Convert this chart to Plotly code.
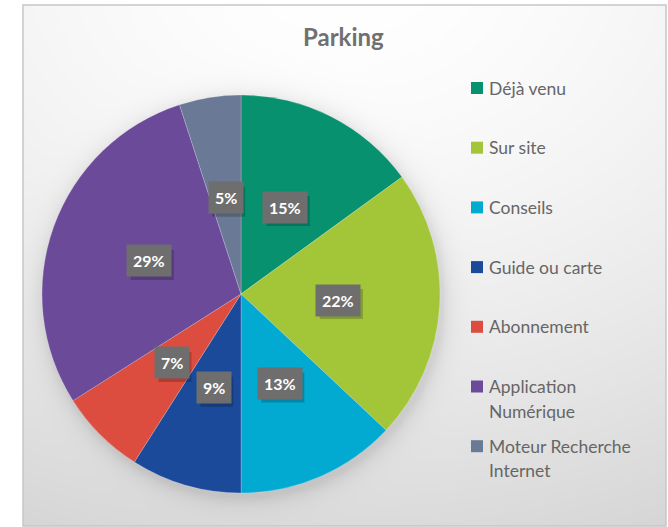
import numpy as np
import plotly.graph_objects as go

# --- data -------------------------------------------------------------
labels = ["Déjà venu", "Sur site", "Conseils", "Guide ou carte",
          "Abonnement", "Application Numérique", "Moteur Recherche Internet"]
values = [15, 22, 13, 9, 7, 29, 5]
colors = ["#08916f", "#a3c639", "#02a9d1", "#1b4a9b",
          "#dc4c3f", "#6b4a9a", "#6a7995"]
legend_lines = [["Déjà venu"], ["Sur site"], ["Conseils"], ["Guide ou carte"],
                ["Abonnement"], ["Application", "Numérique"],
                ["Moteur Recherche", "Internet"]]
title = "Parking"

# --- canvas geometry (pixels) -----------------------------------------
W, H = 668, 527
frame = (23, 5, 666, 526)          # left, top, right, bottom
cx, cy, R = 241, 294, 199          # pie centre and radius


def px(x):
    return x / W


def py(y):
    return 1 - y / H


# --- soft background: radial gradient with a shadow around the pie ----
gx = np.linspace(frame[0], frame[2], 170)
gy = np.linspace(frame[1], frame[3], 140)
X, Y = np.meshgrid(gx, gy)
t = np.sqrt(((X - 345) / 1.3) ** 2 + (Y + 40) ** 2) / 600
grey = 255 - 40 * np.clip(t, 0, 1.3) ** 1.6
d = np.sqrt((X - (cx + 2)) ** 2 + (Y - (cy + 4)) ** 2)
grey -= 26 * np.exp(-np.clip(d - R, 0, None) / 9)
grey = np.clip(grey, 0, 255)

fig = go.Figure()
fig.add_trace(go.Heatmap(
    x=gx, y=gy, z=grey, zmin=0, zmax=255, zsmooth="best",
    colorscale=[[0, "rgb(0,0,0)"], [1, "rgb(255,255,255)"]],
    showscale=False, hoverinfo="skip",
))

# --- the pie ----------------------------------------------------------
fig.add_trace(go.Pie(
    labels=labels, values=values, sort=False, direction="clockwise",
    rotation=0, marker=dict(colors=colors, line=dict(color="rgba(255,255,255,0.35)", width=0.6)),
    textinfo="none", showlegend=False,
    domain=dict(x=[px(cx - R), px(cx + R)], y=[py(cy + R), py(cy - R)]),
))

annotations = []
shapes = []

# percentage labels in grey boxes, placed half way along each slice
total = sum(values)
cum = 0
for v in values:
    mid = (cum + v / 2) / total * 2 * np.pi
    cum += v
    lx = cx + 0.49 * R * np.sin(mid)
    ly = cy - 0.49 * R * np.cos(mid)
    txt = f"{round(100 * v / total)}%"
    # soft drop shadow behind the label box
    half_w = 6 + 5.2 * len(txt)
    shapes.append(dict(
        type="rect", xref="paper", yref="paper", layer="above",
        x0=px(lx - half_w + 3), x1=px(lx + half_w + 3),
        y0=py(ly + 15 + 4), y1=py(ly - 15 + 4),
        fillcolor="rgba(0,0,0,0.20)", line=dict(width=0),
    ))
    annotations.append(dict(
        x=px(lx), y=py(ly), xref="paper", yref="paper",
        xanchor="center", yanchor="middle", text=f"<b>{txt}</b>",
        showarrow=False, bgcolor="#6e6e6e", borderpad=6,
        font=dict(family="Lato", size=16, color="#ffffff"),
    ))

# title
annotations.append(dict(
    x=px(344), y=py(36), xref="paper", yref="paper",
    xanchor="center", yanchor="middle", text=f"<b>{title}</b>",
    showarrow=False, font=dict(family="Lato", size=24, color="#707070"),
))

# legend: coloured squares and labels, one slot per category
for i, (lines, col) in enumerate(zip(legend_lines, colors)):
    yc = 88 + 59.7 * i
    shapes.append(dict(
        type="rect", xref="paper", yref="paper",
        x0=px(471), x1=px(483), y0=py(yc + 6), y1=py(yc - 6),
        fillcolor=col, line=dict(width=0),
    ))
    for j, line in enumerate(lines):
        annotations.append(dict(
            x=px(487), y=py(yc + 24.5 * j), xref="paper", yref="paper",
            xanchor="left", yanchor="middle", text=line, showarrow=False,
            font=dict(family="Lato", size=17.5, color="#666666"),
        ))

# chart frame
shapes.append(dict(
    type="rect", xref="paper", yref="paper",
    x0=px(frame[0]), x1=px(frame[2]), y0=py(frame[3]), y1=py(frame[1]),
    line=dict(color="#c6c6c6", width=1.5), fillcolor="rgba(0,0,0,0)",
    layer="above",
))

fig.update_layout(
    width=W, height=H, margin=dict(l=0, r=0, t=0, b=0),
    paper_bgcolor="#ffffff", plot_bgcolor="rgba(0,0,0,0)",
    xaxis=dict(domain=[px(frame[0]), px(frame[2])], range=[frame[0], frame[2]],
               visible=False, fixedrange=True),
    yaxis=dict(domain=[py(frame[3]), py(frame[1])], range=[frame[3], frame[1]],
               visible=False, fixedrange=True),
    annotations=annotations, shapes=shapes,
)

fig.write_html("out.html")
